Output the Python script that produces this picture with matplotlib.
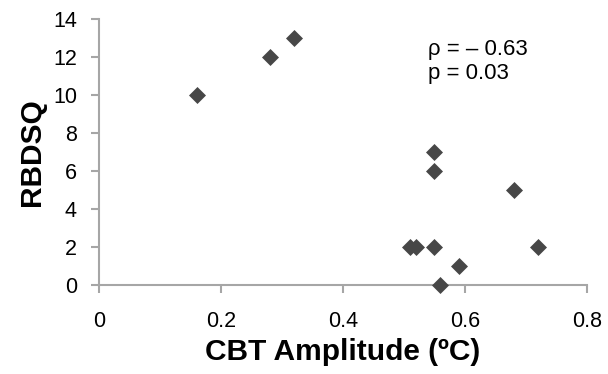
import matplotlib.pyplot as plt

# CBT amplitude vs RBDSQ score
cbt_amplitude = [0.16, 0.28, 0.32, 0.51, 0.52, 0.55, 0.55, 0.55, 0.56, 0.59, 0.68, 0.72]
rbdsq = [10, 12, 13, 2, 2, 7, 6, 2, 0, 1, 5, 2]
x_ticks = [0, 0.2, 0.4, 0.6, 0.8]
x_tick_labels = ['0', '0.2', '0.4', '0.6', '0.8']
y_ticks = [0, 2, 4, 6, 8, 10, 12, 14]

plt.rcParams['font.family'] = ['Liberation Sans', 'DejaVu Sans']

fig = plt.figure(figsize=(6.08, 3.74), dpi=100)
ax = fig.add_axes([0.163, 0.238, 0.802, 0.711])

ax.scatter(cbt_amplitude, rbdsq, marker='D', s=75, color='#474747', zorder=3,
           clip_on=False, linewidths=0)

ax.set_xlim(0, 0.8)
ax.set_ylim(0, 14)
ax.set_xticks(x_ticks)
ax.set_xticklabels(x_tick_labels)
ax.set_yticks(y_ticks)

for side in ['top', 'right']:
    ax.spines[side].set_visible(False)
for side in ['left', 'bottom']:
    ax.spines[side].set_color('#a6a6a6')
    ax.spines[side].set_linewidth(1.5)

ax.tick_params(axis='both', colors='#a6a6a6', width=1.5, length=6, labelsize=15.5,
               labelcolor='black')
ax.tick_params(axis='x', pad=13)
ax.tick_params(axis='y', pad=10)

ax.set_xlabel('CBT Amplitude (\u00baC)', fontsize=21.5, fontweight='bold', labelpad=4)
ax.set_ylabel('RBDSQ', fontsize=21.5, fontweight='bold', labelpad=5)

# correlation annotation
ax.text(0.674, 0.925, '\u03c1 = \u2013 0.63\np = 0.03', transform=ax.transAxes,
        fontsize=16, va='top', ha='left', linespacing=1.2)

fig.savefig('out.png', dpi=100)
